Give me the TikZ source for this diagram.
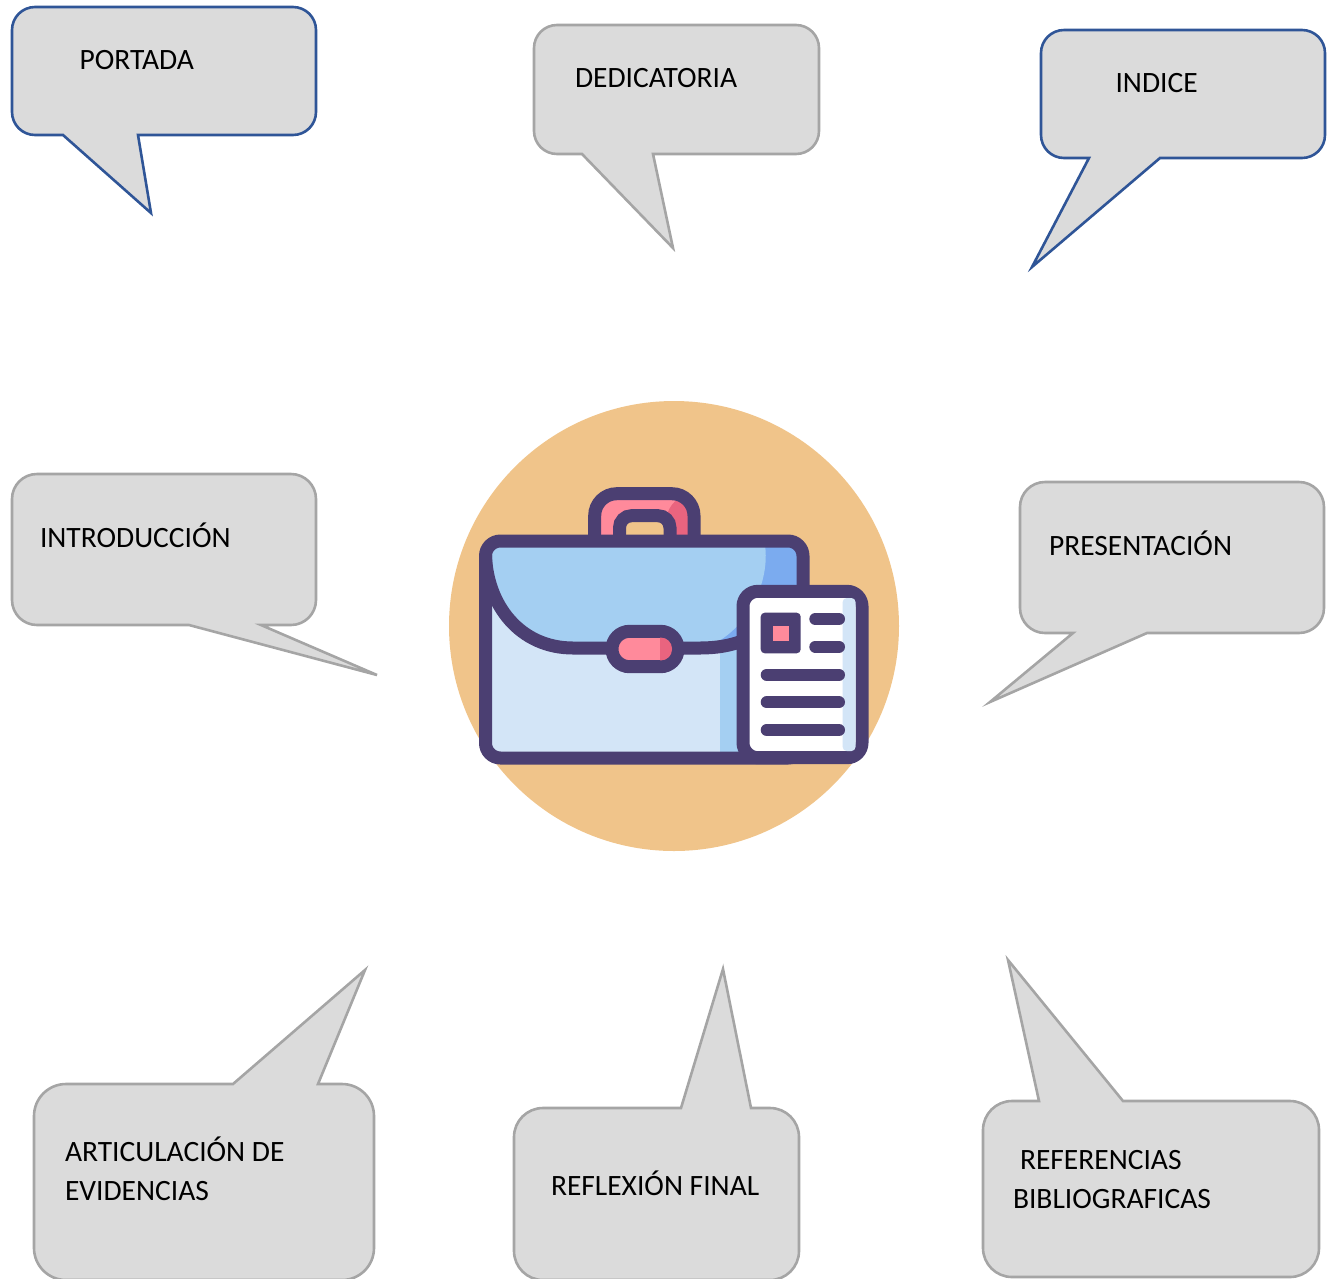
\documentclass[tikz,border=0pt]{standalone}
\usepackage{fontspec}
\setmainfont{Carlito}
\definecolor{bfill}{HTML}{DBDBDB}
\definecolor{bgray}{HTML}{A5A5A5}
\definecolor{bblue}{HTML}{2F5597}
\definecolor{orangebg}{HTML}{F0C48A}
\definecolor{ink}{HTML}{4B3F72}
\definecolor{pale}{HTML}{D3E5F7}
\definecolor{midblue}{HTML}{A4CFF2}
\definecolor{deepblue}{HTML}{7BABEF}
\definecolor{pink}{HTML}{FF8A9B}
\definecolor{deeppink}{HTML}{E9647F}
\tikzset{
  graybub/.style={draw=bgray,fill=bfill,line width=2.6pt,line join=miter},
  bluebub/.style={draw=bblue,fill=bfill,line width=2.6pt,line join=miter},
  label/.style={anchor=base west,inner sep=0pt,outer sep=0pt,font=\fontsize{29.5}{39}\selectfont,text=black},
  inkline/.style={draw=ink,line width=13pt},
  docline/.style={draw=ink,line width=12pt,line cap=round}
}
\newcommand{\bubr}{25}
% #1 style, l t r b, tail base a and c, tip x y; corner radius from \bubr
\newcommand{\downbubble}[9][graybub]{%
  \path[#1] (#8,#9) -- (#6,#5) -- ({#2+\bubr},#5) arc[start angle=270,end angle=180,radius=\bubr pt]
    -- (#2,{#3+\bubr}) arc[start angle=180,end angle=90,radius=\bubr pt]
    -- ({#4-\bubr},#3) arc[start angle=90,end angle=0,radius=\bubr pt]
    -- (#4,{#5-\bubr}) arc[start angle=0,end angle=-90,radius=\bubr pt] -- (#7,#5) -- cycle;}
\newcommand{\upbubble}[9][graybub]{%
  \path[#1] (#8,#9) -- (#6,#3) -- ({#2+\bubr},#3) arc[start angle=90,end angle=180,radius=\bubr pt]
    -- (#2,{#5-\bubr}) arc[start angle=180,end angle=270,radius=\bubr pt]
    -- ({#4-\bubr},#5) arc[start angle=270,end angle=360,radius=\bubr pt]
    -- (#4,{#3+\bubr}) arc[start angle=0,end angle=90,radius=\bubr pt] -- (#7,#3) -- cycle;}
\begin{document}
\begin{tikzpicture}[x=1pt,y=-1pt]
\useasboundingbox (0,0) rectangle (1328,1278);
\clip (0,0) rectangle (1328,1278);
% callouts
\renewcommand{\bubr}{23}
\downbubble[bluebub]{12}{7}{316}{135}{63}{138}{151}{213}
\downbubble{534}{25}{819}{154}{582}{653}{673}{248}
\downbubble[bluebub]{1041}{30}{1325}{158}{1089}{1160}{1032}{267}
\renewcommand{\bubr}{25}
\downbubble{12}{474}{316}{625}{189}{261}{377}{675}
\downbubble{1020}{482}{1324}{633}{1073}{1147}{990}{702}
\renewcommand{\bubr}{32}
\upbubble{34}{1084}{374}{1280}{233}{318}{365}{970}
\renewcommand{\bubr}{29}
\upbubble{514}{1108}{799}{1280}{681}{751}{723}{969}
\upbubble{983}{1101}{1319}{1277}{1039}{1123}{1008}{960}
% texts
\node[label] (portada) at (79.5,69) {PORTADA};
\node[label] (dedicatoria) at (575,87) {DEDICATORIA};
\node[label] (indice) at (1115.5,92) {INDICE};
\node[label] (intro) at (40,547) {INTRODUCCIÓN};
\node[label] (present) at (1049,555) {PRESENTACIÓN};
\node[label] (artic) at (65,1161) {ARTICULACIÓN DE};
\node[label] (evid) at (65,1200) {EVIDENCIAS};
\node[label] (reflex) at (551,1195) {REFLEXIÓN FINAL};
\node[label] (refer) at (1020,1169) {REFERENCIAS};
\node[label] (biblio) at (1013,1208) {BIBLIOGRAFICAS};
% icon
\fill[orangebg] (674,626) circle[radius=225];
% handle
\fill[pink,rounded corners=22pt] (594.7,545) -- (594.7,493.7) -- (694,493.7) -- (694,545) -- cycle;
\fill[deeppink,rounded corners=22pt] (665,500) -- (694,493.7) -- (694,545) -- (668,545) -- cycle;
\path[fill=orangebg,inkline,rounded corners=12pt] (619.5,545) -- (619.5,515.7) -- (670,515.7) -- (670,545);
\path[inkline,rounded corners=22pt] (594.7,545) -- (594.7,493.7) -- (694,493.7) -- (694,545);
% case
\fill[pale,rounded corners=15pt] (485.5,541) rectangle (803,758);
\fill[midblue] (720,640) rectangle (745,752);
\fill[deepblue,rounded corners=12pt] (487,575) -- (487,541) -- (803,541) -- (803,620) -- (745,640) -- (700,648) -- (573,648) .. controls (520,648) and (487,605) .. (487,575);
\fill[midblue] (490,545) -- (765,545) .. controls (770,580) and (750,630) .. (705,648) -- (573,648) .. controls (520,648) and (487,605) .. (487,560) -- cycle;
\path[inkline,rounded corners=15pt] (485.5,541) rectangle (803,758);
\path[inkline] (485.5,555) .. controls (487,605) and (520,648) .. (573,648) -- (700,648) .. controls (715,648) and (730,646) .. (745,640);
% clasp
\path[fill=pink,inkline,rounded corners=17.6pt] (612,631.3) rectangle (678,666.7);
\begin{scope}
  \clip (660,637) rectangle (672,661);
  \fill[deeppink,rounded corners=11pt] (618,637.6) rectangle (672,660.4);
\end{scope}
% sheet
\path[fill=white,inkline,rounded corners=15pt] (743,591.3) rectangle (862,757.7);
\fill[pale,rounded corners=4pt] (842.7,598) -- (855.5,598) -- (855.5,751) -- (842.7,751) -- cycle;
\fill[ink,rounded corners=4pt] (760.7,612.7) rectangle (800.7,653.3);
\fill[pink] (772.7,626) rectangle (789.3,641);
\draw[docline] (815.3,619) -- (839,619);
\draw[docline] (815.3,646.7) -- (839,646.7);
\draw[docline] (766.7,674.7) -- (839,674.7);
\draw[docline] (766.7,702.3) -- (839,702.3);
\draw[docline] (766.7,730) -- (839,730);
\end{tikzpicture}
\end{document}
